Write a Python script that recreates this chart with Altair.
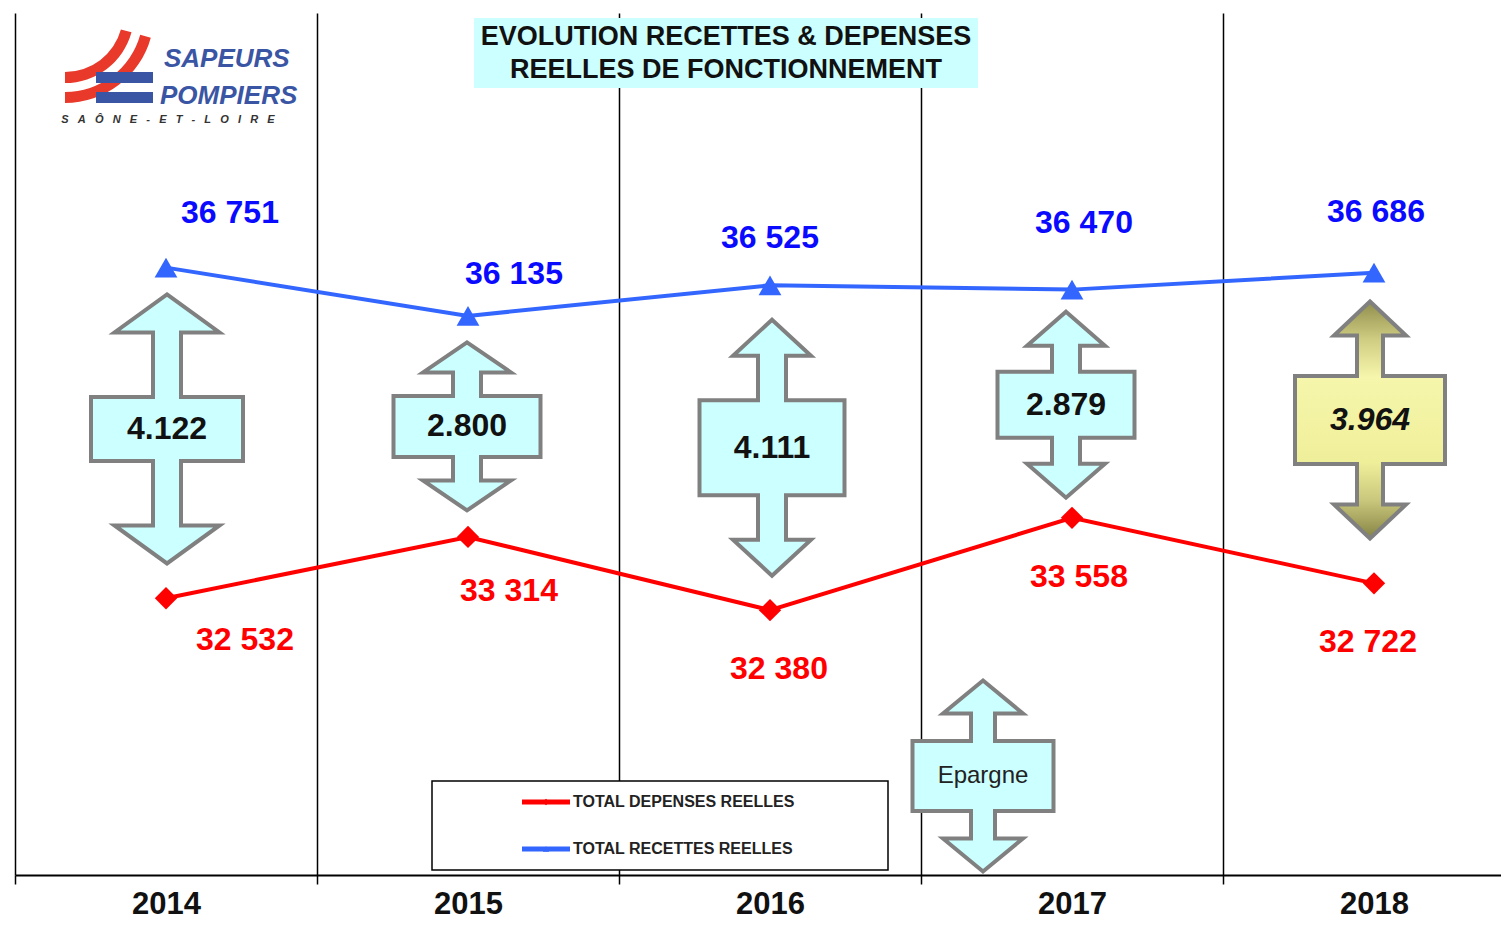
import altair as alt
import pandas as pd

# ---------------- data ----------------
years = ["2014", "2015", "2016", "2017", "2018"]
recettes = [36751, 36135, 36525, 36470, 36686]
depenses = [32532, 33314, 32380, 33558, 32722]
epargne = [4.122, 2.800, 4.111, 2.879, 3.964]
legend_labels = ["TOTAL DEPENSES REELLES", "TOTAL RECETTES REELLES"]
title_lines = ["EVOLUTION RECETTES & DEPENSES", "REELLES DE FONCTIONNEMENT"]
epargne_label = "Epargne"
logo_lines = ["SAPEURS", "POMPIERS", "SAÔNE-ET-LOIRE"]

# ---------------- style ----------------
SANS = "'Liberation Sans', Arial, sans-serif"
BLUE_LINE = "#3366ff"
BLUE_TXT = "#0a0aff"
RED = "#ff0000"
CYAN = "#ccffff"
GREY = "#808080"


def fmt(v):
    return f"{v:,}".replace(",", " ")


df = pd.DataFrame({
    "year": years,
    "recettes": recettes,
    "depenses": depenses,
    "rec_txt": [fmt(v) for v in recettes],
    "dep_txt": [fmt(v) for v in depenses],
    "ep_txt": [f"{e:.3f}" for e in epargne],
})

base = alt.Chart(df)

X = alt.X(
    "year:N",
    scale=alt.Scale(type="band", domain=years, paddingInner=0, paddingOuter=0, range=[0, 1510]),
    axis=alt.Axis(
        title=None, labelAngle=0, tickBand="extent",
        grid=True, gridColor="black", gridWidth=1.5, gridOpacity=1,
        domainColor="black", domainWidth=2,
        tickColor="black", tickWidth=1.5, tickSize=9,
        labelFont=SANS, labelFontSize=31, labelFontWeight="bold",
        labelColor="#111111", labelPadding=5,
    ),
)
YSC = alt.Scale(domain=[29000, 40000], nice=False, zero=False)


def arrow_path(W, BH, H, HW, HH, SW, ox=0.0, oy=0.0):
    w, b, h, hw, s = W / 2, BH / 2, H / 2, HW / 2, SW / 2
    pts = [(0, -h), (hw, -h + HH), (s, -h + HH), (s, -b), (w, -b), (w, b), (s, b),
           (s, h - HH), (hw, h - HH), (0, h), (-hw, h - HH), (-s, h - HH), (-s, b),
           (-w, b), (-w, -b), (-s, -b), (-s, -h + HH), (-hw, -h + HH)]
    return "M" + " L".join(f"{x + ox:.1f},{y + oy:.1f}" for x, y in pts) + " Z"


ARROW_STYLE = {
    "2014": dict(W=152, BH=64, H=269, HW=105, HH=38, SW=28, ox=1, oy=-4),
    "2015": dict(W=147, BH=61, H=168, HW=88, HH=30, SW=28, ox=-1, oy=0),
    "2016": dict(W=145, BH=95, H=256, HW=78, HH=36, SW=28, ox=2, oy=0),
    "2017": dict(W=137, BH=66, H=186, HW=78, HH=34, SW=28, ox=-6, oy=1),
    "2018": dict(W=150, BH=88, H=237, HW=72, HH=34, SW=26, ox=-4, oy=-8),
}

gold = alt.LinearGradient(
    gradient="linear", x1=0, x2=0, y1=0, y2=1,
    stops=[
        alt.GradientStop(color="#8f8d4c", offset=0),
        alt.GradientStop(color="#cfcd82", offset=0.16),
        alt.GradientStop(color="#f6f6ac", offset=0.32),
        alt.GradientStop(color="#efef9a", offset=0.68),
        alt.GradientStop(color="#c9c77c", offset=0.84),
        alt.GradientStop(color="#858343", offset=1),
    ],
)

layers = []

# series lines + markers
layers.append(base.mark_line(color=BLUE_LINE, strokeWidth=4).encode(
    x=X, y=alt.Y("recettes:Q", scale=YSC, axis=None)))
layers.append(base.mark_line(color=RED, strokeWidth=4).encode(
    x=X, y=alt.Y("depenses:Q", scale=YSC, axis=None)))
layers.append(base.mark_point(shape="triangle-up", filled=True, size=520, color=BLUE_LINE, opacity=1).encode(
    x=X, y=alt.Y("recettes:Q", scale=YSC, axis=None)))
layers.append(base.mark_point(shape="diamond", filled=True, size=500, color=RED, opacity=1).encode(
    x=X, y=alt.Y("depenses:Q", scale=YSC, axis=None)))

# value labels
blue_off = [(64, -55), (46, -42), (0, -47), (12, -67), (2, -61)]
red_off = [(79, 42), (41, 54), (9, 59), (7, 59), (-6, 59)]
for yr, (bdx, bdy), (rdx, rdy) in zip(years, blue_off, red_off):
    sub = base.transform_filter(f"datum.year == '{yr}'")
    layers.append(sub.mark_text(font=SANS, fontSize=32, fontWeight="bold", color=BLUE_TXT,
                                dx=bdx, dy=bdy, baseline="middle").encode(
        x=X, y=alt.Y("recettes:Q", scale=YSC, axis=None), text="rec_txt:N"))
    layers.append(sub.mark_text(font=SANS, fontSize=32, fontWeight="bold", color=RED,
                                dx=rdx, dy=rdy, baseline="middle").encode(
        x=X, y=alt.Y("depenses:Q", scale=YSC, axis=None), text="dep_txt:N"))

# epargne arrows (centered between the two series)
for yr in years:
    st = ARROW_STYLE[yr]
    path = arrow_path(**st)
    sub = base.transform_filter(f"datum.year == '{yr}'").transform_calculate(
        mid="(datum.recettes + datum.depenses) / 2")
    fill = gold if yr == "2018" else CYAN
    layers.append(sub.mark_point(shape=path, size=4, filled=True, fill=fill, stroke=GREY,
                                 strokeWidth=4, opacity=1, strokeJoin="miter").encode(
        x=X, y=alt.Y("mid:Q", scale=YSC, axis=None)))
    layers.append(sub.mark_text(font=SANS, fontSize=32, fontWeight="bold",
                                fontStyle="italic" if yr == "2018" else "normal",
                                color="#111111", dx=st["ox"], dy=st["oy"], baseline="middle").encode(
        x=X, y=alt.Y("mid:Q", scale=YSC, axis=None), text="ep_txt:N"))

one = alt.Data(values=[{"k": 0}])

# title box
layers.append(alt.Chart(one).mark_rect(color=CYAN, opacity=1).encode(
    x=alt.value(459), x2=alt.value(963), y=alt.value(5), y2=alt.value(75)))
for i, line in enumerate(title_lines):
    layers.append(alt.Chart(one).mark_text(font=SANS, fontSize=27, fontWeight="bold", color="#111111",
                                           baseline="middle", text=line).encode(
        x=alt.value(711), y=alt.value(24 + 33 * i)))

# legend box
layers.append(alt.Chart(one).mark_rect(fill="white", stroke="black", strokeWidth=1.5, opacity=1).encode(
    x=alt.value(417), x2=alt.value(873), y=alt.value(768), y2=alt.value(857)))
for i, (lab, col, shp) in enumerate(zip(legend_labels, [RED, BLUE_LINE], ["diamond", "triangle-up"])):
    yy = 789 + 47 * i
    layers.append(alt.Chart(one).mark_rule(color=col, strokeWidth=5).encode(
        x=alt.value(507), x2=alt.value(555), y=alt.value(yy)))
    layers.append(alt.Chart(one).mark_point(shape=shp, filled=True, size=40, color=col, opacity=1).encode(
        x=alt.value(531), y=alt.value(yy)))
    layers.append(alt.Chart(one).mark_text(font=SANS, fontSize=16, fontWeight="bold", color="#222222",
                                           align="left", baseline="middle", text=lab).encode(
        x=alt.value(558), y=alt.value(yy)))

# "Epargne" explanatory arrow
layers.append(alt.Chart(one).mark_point(shape=arrow_path(141, 70, 191, 80, 33, 24), size=4, filled=True,
                                        fill=CYAN, stroke=GREY, strokeWidth=4, opacity=1,
                                        strokeJoin="miter").encode(
    x=alt.value(968), y=alt.value(763)))
layers.append(alt.Chart(one).mark_text(font=SANS, fontSize=24, color="#222222", baseline="middle",
                                       text=epargne_label).encode(
    x=alt.value(968), y=alt.value(763)))

# logo
LOGO_RED = "#e8392b"
LOGO_BLUE = "#3a55a4"
for r_out, r_in in [(69, 58), (89, 78)]:
    layers.append(alt.Chart(one).mark_arc(color=LOGO_RED, radius=r_out, radius2=r_in,
                                          theta=1.84, theta2=3.1416).encode(
        x=alt.value(50), y=alt.value(1)))
for y0 in [59, 79]:
    layers.append(alt.Chart(one).mark_rect(color=LOGO_BLUE, opacity=1).encode(
        x=alt.value(81), x2=alt.value(138), y=alt.value(y0), y2=alt.value(y0 + 11)))
layers.append(alt.Chart(one).mark_text(font=SANS, fontSize=26, fontWeight="bold", fontStyle="italic",
                                       color=LOGO_BLUE, align="left", baseline="alphabetic",
                                       text=logo_lines[0]).encode(x=alt.value(149), y=alt.value(54)))
layers.append(alt.Chart(one).mark_text(font=SANS, fontSize=26, fontWeight="bold", fontStyle="italic",
                                       color=LOGO_BLUE, align="left", baseline="alphabetic",
                                       text=logo_lines[1]).encode(x=alt.value(145), y=alt.value(91)))
spaced = "\u00a0\u00a0\u00a0".join(list(logo_lines[2]))
layers.append(alt.Chart(one).mark_text(font=SANS, fontSize=11, fontStyle="italic", fontWeight="bold",
                                       color="#333333", baseline="middle", text=spaced).encode(
    x=alt.value(153), y=alt.value(107)))

chart = alt.layer(*layers).properties(
    width=1486, height=862,
    padding={"left": 7, "top": 5, "right": 0, "bottom": 46},
    autosize="none", background="white",
).configure_view(stroke=None)

chart.save("out.html", embed_options={"renderer": "svg", "actions": False})
